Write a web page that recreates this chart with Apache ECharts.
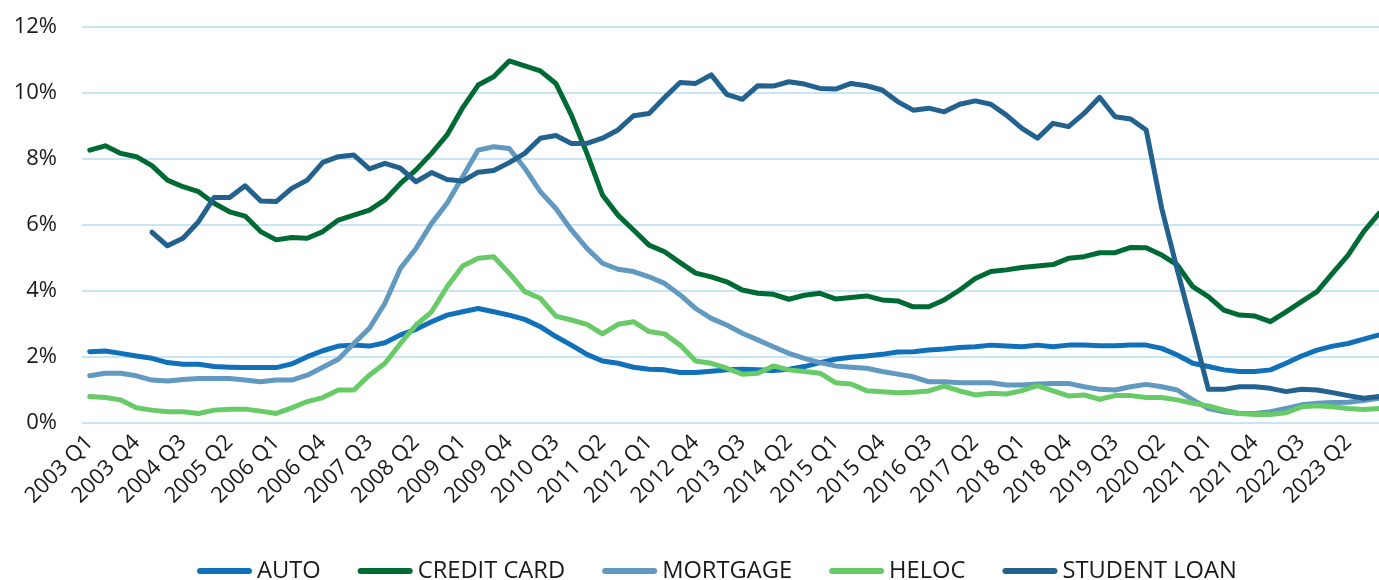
<!DOCTYPE html>
<html>
<head>
<meta charset="utf-8">
<script src="https://cdn.jsdelivr.net/npm/echarts@6/dist/echarts.min.js"></script>
<style>
html,body{margin:0;padding:0;background:#fff;overflow:hidden;width:1379px;height:580px;}
#chart{width:1387px;height:580px;}
</style>
</head>
<body>
<div id="chart"></div>
<script>
// Categories: 2003 Q1 .. 2023 Q4
const years = [2003,2004,2005,2006,2007,2008,2009,2010,2011,2012,2013,2014,2015,2016,2017,2018,2019,2020,2021,2022,2023];
const quarters = ['Q1','Q2','Q3','Q4'];
const categories = [];
years.forEach(y => quarters.forEach(q => categories.push(y + ' ' + q)));

const yTicks = [0, 2, 4, 6, 8, 10, 12];

const auto = [2.16,2.18,2.11,2.03,1.96,1.83,1.78,1.78,1.71,1.69,
  1.68,1.68,1.68,1.79,2.01,2.19,2.33,2.36,2.33,2.43,
  2.67,2.84,3.07,3.27,3.37,3.47,3.37,3.27,3.14,2.92,
  2.62,2.36,2.08,1.88,1.81,1.69,1.63,1.61,1.53,1.53,
  1.57,1.61,1.63,1.61,1.59,1.63,1.71,1.83,1.93,1.99,
  2.03,2.08,2.15,2.16,2.21,2.24,2.29,2.31,2.36,2.33,
  2.31,2.36,2.31,2.36,2.36,2.34,2.34,2.36,2.36,2.26,
  2.06,1.81,1.71,1.61,1.56,1.56,1.61,1.81,2.03,2.21,
  2.33,2.41,2.54,2.67];

const creditCard = [8.27,8.40,8.17,8.07,7.80,7.36,7.16,7.01,6.66,6.40,
  6.27,5.80,5.55,5.62,5.60,5.80,6.15,6.30,6.45,6.76,
  7.26,7.67,8.17,8.73,9.55,10.24,10.49,10.97,10.82,10.67,
  10.29,9.33,8.17,6.91,6.30,5.85,5.39,5.19,4.86,4.54,
  4.43,4.28,4.03,3.93,3.90,3.75,3.87,3.93,3.76,3.80,
  3.85,3.73,3.70,3.52,3.52,3.73,4.03,4.38,4.59,4.64,
  4.71,4.76,4.80,4.99,5.04,5.16,5.16,5.32,5.31,5.09,
  4.79,4.13,3.83,3.42,3.27,3.24,3.07,3.37,3.68,3.98,
  4.54,5.09,5.80,6.36];

const mortgage = [1.43,1.51,1.51,1.43,1.30,1.27,1.32,1.35,1.35,1.35,
  1.30,1.25,1.30,1.30,1.45,1.69,1.93,2.41,2.87,3.63,
  4.69,5.29,6.05,6.66,7.46,8.27,8.37,8.32,7.72,7.01,
  6.50,5.85,5.29,4.84,4.66,4.59,4.43,4.23,3.88,3.47,
  3.17,2.97,2.72,2.52,2.31,2.11,1.96,1.83,1.73,1.69,
  1.66,1.56,1.48,1.40,1.25,1.25,1.22,1.22,1.22,1.15,
  1.15,1.18,1.20,1.20,1.10,1.02,1.00,1.10,1.17,1.10,
  1.00,0.70,0.44,0.34,0.29,0.29,0.34,0.44,0.55,0.60,
  0.62,0.63,0.68,0.75];

const heloc = [0.80,0.77,0.70,0.46,0.39,0.34,0.34,0.29,0.39,0.42,
  0.42,0.36,0.29,0.46,0.65,0.77,1.00,1.00,1.45,1.81,
  2.41,2.97,3.37,4.13,4.76,4.99,5.04,4.54,3.98,3.78,
  3.24,3.12,2.99,2.70,2.99,3.07,2.77,2.70,2.36,1.88,
  1.81,1.66,1.48,1.51,1.73,1.61,1.56,1.51,1.22,1.18,
  0.98,0.95,0.92,0.93,0.97,1.12,0.97,0.85,0.90,0.88,
  0.98,1.13,0.97,0.82,0.85,0.72,0.83,0.83,0.77,0.77,
  0.70,0.60,0.52,0.39,0.29,0.26,0.26,0.31,0.49,0.52,
  0.49,0.44,0.41,0.44];

const studentLoan = [null,null,null,null,5.78,5.37,5.60,6.10,6.83,6.83,
  7.19,6.73,6.71,7.11,7.36,7.90,8.07,8.12,7.70,7.87,
  7.72,7.31,7.59,7.38,7.33,7.60,7.65,7.89,8.17,8.63,
  8.71,8.47,8.47,8.63,8.88,9.31,9.38,9.86,10.32,10.29,
  10.55,9.96,9.81,10.22,10.21,10.34,10.27,10.14,10.12,10.29,
  10.22,10.09,9.74,9.48,9.54,9.43,9.66,9.76,9.66,9.33,
  8.93,8.63,9.08,8.98,9.38,9.87,9.28,9.21,8.88,6.50,
  4.65,2.85,1.02,1.02,1.10,1.10,1.05,0.95,1.02,1.00,
  0.92,0.83,0.75,0.80];

const seriesNames = ['AUTO','CREDIT CARD','MORTGAGE','HELOC','STUDENT LOAN'];
const seriesData = [auto, creditCard, mortgage, heloc, studentLoan];
const seriesColors = ['#1170ba','#006a35','#6199c1','#68cb68','#23618e'];

const FONT = "'Open Sans', 'Noto Sans', sans-serif";
const chart = echarts.init(document.getElementById('chart'), null, {renderer: 'canvas'});
chart.setOption({
  animation: false,
  backgroundColor: '#ffffff',
  grid: {left: 82, right: 0, top: 27, bottom: 157, containLabel: false},
  legend: {
    left: 197, top: 559, padding: 0,
    itemWidth: 55, itemHeight: 6, itemGap: 37,
    icon: 'path://M3,0H52A3,3,0,0,1,52,6H3A3,3,0,0,1,3,0Z',
    textStyle: {fontFamily: FONT, fontSize: 23.7, color: '#1a1a1a'},
    data: seriesNames
  },
  xAxis: {
    type: 'category',
    data: categories,
    boundaryGap: true,
    axisLine: {show: false},
    axisTick: {show: false},
    axisLabel: {
      interval: 2, rotate: 45, margin: 16,
      fontFamily: FONT, fontSize: 22, color: '#1a1a1a'
    },
    splitLine: {show: false}
  },
  yAxis: {
    type: 'value',
    min: yTicks[0], max: yTicks[yTicks.length-1], interval: 2,
    axisLine: {show: false},
    axisTick: {show: false},
    axisLabel: {
      margin: 25, fontFamily: FONT, fontSize: 22, color: '#1a1a1a',
      formatter: v => v + '%'
    },
    splitLine: {lineStyle: {color: '#c9e4f2', width: 2}}
  },
  series: seriesNames.map((n, k) => ({
    name: n,
    type: 'line',
    data: seriesData[k],
    showSymbol: false,
    symbol: 'none',
    connectNulls: false,
    lineStyle: {width: 5, color: seriesColors[k], join: 'round', cap: 'round'},
    itemStyle: {color: seriesColors[k]},
    emphasis: {disabled: true}
  }))
});
</script>
</body>
</html>
